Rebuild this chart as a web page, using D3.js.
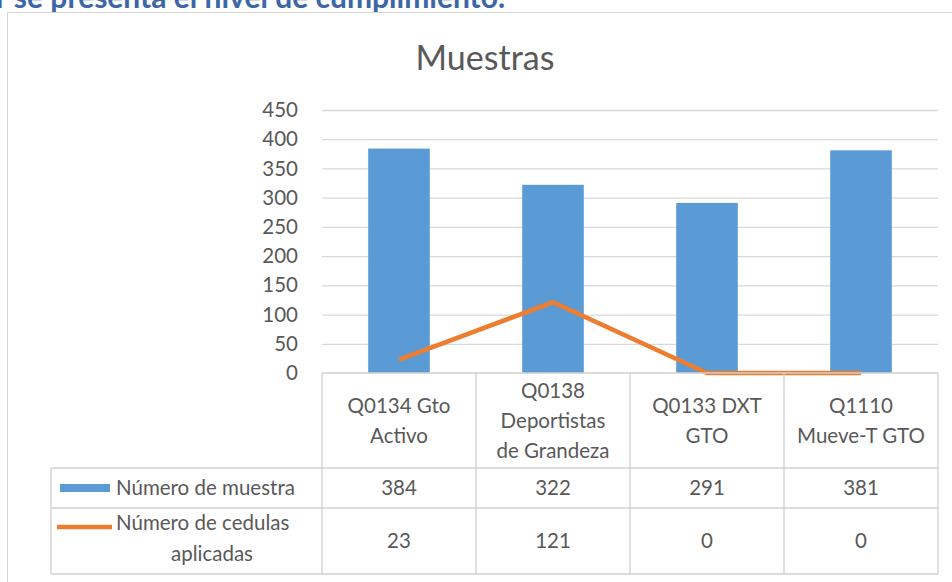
<!DOCTYPE html>
<html>
<head>
<meta charset="utf-8">
<script src="https://cdn.jsdelivr.net/npm/d3@7"></script>
<style>
  body { margin: 0; background: #fff; overflow: hidden; }
  svg { display: block; font-family: Lato, "Open Sans", sans-serif; }
</style>
</head>
<body>
<svg id="chart" width="952" height="582"></svg>
<script>
// data
const categories = ["Q0134 Gto Activo", "Q0138 Deportistas de Grandeza", "Q0133 DXT GTO", "Q1110 Mueve-T GTO"];
const catLines = [["Q0134 Gto", "Activo"], ["Q0138", "Deportistas", "de Grandeza"], ["Q0133 DXT", "GTO"], ["Q1110", "Mueve-T GTO"]];
const muestras = [384, 322, 291, 381];
const cedulas = [23, 121, 0, 0];
const yTicks = [0, 50, 100, 150, 200, 250, 300, 350, 400, 450];

const blue = "#5b9bd5", orange = "#ed7d31", grid = "#d9d9d9", txt = "#595959";
const fs = 20.5;

const svg = d3.select("#chart");

// heading above the chart (cut off at top, as in the source)
svg.append("text")
  .attr("x", -4).attr("y", 8)
  .attr("font-size", 30).attr("font-weight", "bold")
  .attr("fill", "#3b67a6")
  .text("r se presenta el nivel de cumplimiento.");

// chart frame
svg.append("rect")
  .attr("x", 7.5).attr("y", 12.5).attr("width", 960).attr("height", 600)
  .attr("fill", "#fff").attr("stroke", "#d6d6d6");

svg.append("text")
  .attr("x", 485).attr("y", 70)
  .attr("text-anchor", "middle")
  .attr("font-size", 34).attr("fill", txt)
  .text("Muestras");

const pLeft = 322, pRight = 938, pTop = 110, pBottom = 373;

const x = d3.scaleBand().domain(categories).range([pLeft, pRight]);
const xBar = d3.scaleBand().domain(categories).range([pLeft, pRight]).paddingInner(0.6).paddingOuter(0.3);
const y = d3.scaleLinear().domain([0, 450]).range([pBottom, pTop]);

// gridlines
svg.append("g").selectAll("line").data(yTicks.slice(1)).join("line")
  .attr("x1", pLeft).attr("x2", pRight)
  .attr("y1", d => y(d) + 0.5).attr("y2", d => y(d) + 0.5)
  .attr("stroke", grid).attr("stroke-width", 1.3);

// y axis labels
const yAxis = d3.axisLeft(y).tickValues(yTicks).tickSize(0).tickPadding(0);
svg.append("g")
  .attr("transform", `translate(298,0)`)
  .call(yAxis)
  .call(g => g.select(".domain").remove())
  .selectAll("text")
  .attr("font-size", fs).attr("fill", txt).attr("font-family", "Lato, sans-serif");

// bars
svg.append("g").selectAll("rect").data(categories).join("rect")
  .attr("x", d => xBar(d))
  .attr("width", xBar.bandwidth())
  .attr("y", (d, i) => y(muestras[i]))
  .attr("height", (d, i) => y(0) - y(muestras[i]))
  .attr("fill", blue);

// line
const line = d3.line()
  .x((d, i) => x(categories[i]) + x.bandwidth() / 2)
  .y(d => y(d));
svg.append("path")
  .datum(cedulas)
  .attr("d", line)
  .attr("fill", "none")
  .attr("stroke", orange)
  .attr("stroke-width", 4.5);

// data table
const tLeft = 51, rows = [373, 468, 508, 574];
const tg = svg.append("g").attr("stroke", "#d0d0d0").attr("stroke-width", 1.3);
// horizontal lines
tg.append("line").attr("x1", pLeft).attr("x2", pRight).attr("y1", rows[0]).attr("y2", rows[0]);
rows.slice(1).forEach(r => {
  tg.append("line").attr("x1", tLeft).attr("x2", pRight).attr("y1", r).attr("y2", r);
});
// vertical lines
categories.forEach(c => {
  tg.append("line").attr("x1", x(c)).attr("x2", x(c)).attr("y1", rows[0]).attr("y2", rows[3]);
});
tg.append("line").attr("x1", pRight).attr("x2", pRight).attr("y1", rows[0]).attr("y2", rows[3]);
tg.append("line").attr("x1", tLeft).attr("x2", tLeft).attr("y1", rows[1]).attr("y2", rows[3]);

// category labels
const lh = 30;
categories.forEach((c, i) => {
  const ls = catLines[i];
  const cx = x(c) + x.bandwidth() / 2;
  const cy = (rows[0] + rows[1]) / 2;
  ls.forEach((t, j) => {
    svg.append("text")
      .attr("x", cx)
      .attr("y", cy + (j - (ls.length - 1) / 2) * lh + 7)
      .attr("text-anchor", "middle")
      .attr("font-size", fs).attr("fill", txt)
      .text(t);
  });
  svg.append("text")
    .attr("x", cx).attr("y", (rows[1] + rows[2]) / 2 + 7)
    .attr("text-anchor", "middle")
    .attr("font-size", fs).attr("fill", txt)
    .text(muestras[i]);
  svg.append("text")
    .attr("x", cx).attr("y", (rows[2] + rows[3]) / 2 + 7)
    .attr("text-anchor", "middle")
    .attr("font-size", fs).attr("fill", txt)
    .text(cedulas[i]);
});

// legend keys in row headers
svg.append("rect")
  .attr("x", 60).attr("y", 484).attr("width", 50).attr("height", 8)
  .attr("fill", blue);
svg.append("text")
  .attr("x", 116).attr("y", 495)
  .attr("font-size", fs).attr("fill", txt)
  .text("Número de muestra");

svg.append("line")
  .attr("x1", 57).attr("x2", 112).attr("y1", 527).attr("y2", 527)
  .attr("stroke", orange).attr("stroke-width", 4.5);
svg.append("text")
  .attr("x", 116).attr("y", 530)
  .attr("font-size", fs).attr("fill", txt)
  .text("Número de cedulas");
svg.append("text")
  .attr("x", 212).attr("y", 561)
  .attr("text-anchor", "middle")
  .attr("font-size", fs).attr("fill", txt)
  .text("aplicadas");
</script>
</body>
</html>
